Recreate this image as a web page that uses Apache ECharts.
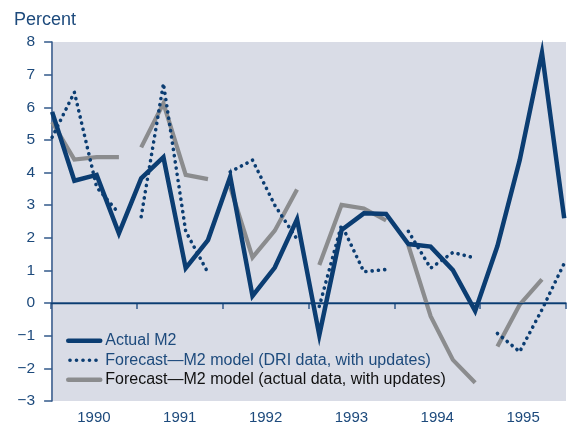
<!DOCTYPE html>
<html>
<head>
<meta charset="utf-8">
<script src="https://cdn.jsdelivr.net/npm/echarts@6/dist/echarts.min.js"></script>
<style>html,body{margin:0;padding:0;background:#fff;}#chart{width:572px;height:423px;}</style>
</head>
<body>
<div id="chart"></div>
<script>
const years = ['1990', '1991', '1992', '1993', '1994', '1995'];
const yTicks = [-3, -2, -1, 0, 1, 2, 3, 4, 5, 6, 7, 8];
// Quarterly actual M2 growth, 1990Q1 .. 1995Q4
const actualM2 = [5.86, 3.75, 3.93, 2.14, 3.82, 4.47, 1.07, 1.93, 3.87, 0.22, 1.09, 2.57,
                  -0.98, 2.24, 2.75, 2.73, 1.81, 1.73, 1.01, -0.24, 1.75, 4.38, 7.67, 2.6];
// Forecasts, one array of four quarters per year
const driForecast = [
  [5.08, 6.46, 3.55, 2.75],
  [2.65, 6.73, 2.2, 0.93],
  [4.02, 4.38, 3.0, 1.96],
  [-0.1, 2.4, 0.96, 1.03],
  [2.2, 1.07, 1.55, 1.38],
  [-0.93, -1.49, -0.2, 1.22]
];
const actualDataForecast = [
  [5.55, 4.4, 4.47, 4.47],
  [4.77, 6.12, 3.93, 3.8],
  [3.55, 1.4, 2.22, 3.48],
  [1.17, 3.01, 2.9, 2.53],
  [1.77, -0.4, -1.74, -2.44],
  [-1.33, -0.05, 0.73, null]
];
const names = ['Actual M2', 'Forecast\u2014M2 model (DRI data, with updates)', 'Forecast\u2014M2 model (actual data, with updates)'];

const navy = '#0b3d72';
const textBlue = '#1d4a7c';
const axisBlue = '#33598a';
const gray = '#8b8c8e';
const font = '"Liberation Sans", Arial, sans-serif';

const dotStyle = { color: navy, width: 3.6, type: [0.1, 6.2], cap: 'round', join: 'round' };

const series = [];
actualDataForecast.forEach((seg, k) => {
  series.push({
    name: names[2], type: 'line', xAxisIndex: 1, symbol: 'none', z: 2,
    data: seg.map((v, j) => [k * 4 + j, v]),
    lineStyle: { color: gray, width: 4.2, cap: 'butt', join: 'miter' },
    itemStyle: { color: gray }
  });
});
driForecast.forEach((seg, k) => {
  series.push({
    name: names[1], type: 'line', xAxisIndex: 1, symbol: 'none', z: 3,
    data: seg.map((v, j) => [k * 4 + j, v]),
    lineStyle: dotStyle,
    itemStyle: { color: navy }
  });
});
series.push({
  name: names[0], type: 'line', xAxisIndex: 1, symbol: 'none', z: 4,
  data: actualM2.map((v, i) => [i, v]),
  lineStyle: { color: navy, width: 4.5, join: 'miter' },
  itemStyle: { color: navy },
  markLine: {
    silent: true, symbol: 'none', label: { show: false },
    lineStyle: { color: navy, width: 1.3, type: 'solid' },
    data: [{ yAxis: 0 }]
  }
});

const chart = echarts.init(document.getElementById('chart'), null, { renderer: 'canvas' });
chart.setOption({
  animation: false,
  backgroundColor: '#ffffff',
  title: {
    text: 'Percent', left: 9, top: 6,
    textStyle: { color: textBlue, fontSize: 18, fontWeight: 'normal', fontFamily: font }
  },
  grid: {
    left: 51, top: 42, width: 515, bottom: 22, show: true,
    backgroundColor: '#d9dce6', borderWidth: 0,
    outerBoundsMode: 'none', containLabel: false
  },
  legend: {
    orient: 'vertical', left: 61, top: 326,
    itemWidth: 32, itemHeight: 12, itemGap: 0,
    itemStyle: { opacity: 0 },
    textStyle: { fontSize: 16, fontFamily: font, lineHeight: 19.5, padding: [0, 0, 0, 0] },
    data: [
      { name: names[0], textStyle: { color: textBlue }, lineStyle: { color: navy, width: 4.5, cap: 'round' } },
      { name: names[1], textStyle: { color: textBlue }, lineStyle: { color: navy, width: 3.6, type: [0.1, 6.4], cap: 'round', dashOffset: -1.7 } },
      { name: names[2], textStyle: { color: '#111111' }, lineStyle: { color: gray, width: 4.5, cap: 'round' } }
    ]
  },
  xAxis: [
    {
      type: 'category', data: years, boundaryGap: true, position: 'bottom',
      axisLine: { show: true, lineStyle: { color: axisBlue, width: 1.5 } },
      axisTick: { show: true, alignWithLabel: false, length: 6, lineStyle: { color: axisBlue, width: 1.5 } },
      axisLabel: { color: textBlue, fontSize: 15, fontFamily: font, margin: 9 },
      splitLine: { show: false }
    },
    {
      type: 'value', min: -0.05, max: 23.08, show: false, position: 'bottom'
    }
  ],
  yAxis: {
    type: 'value', min: yTicks[0], max: yTicks[yTicks.length - 1], interval: 1,
    axisLine: { show: true, lineStyle: { color: axisBlue, width: 1.5 } },
    axisTick: { show: true, length: 8, lineStyle: { color: axisBlue, width: 1.5 } },
    axisLabel: {
      color: textBlue, fontSize: 15.5, fontFamily: font, margin: 16,
      formatter: v => (v < 0 ? '\u2212' + (-v) : String(v))
    },
    splitLine: { show: false }
  },
  series: series
});
</script>
</body>
</html>
